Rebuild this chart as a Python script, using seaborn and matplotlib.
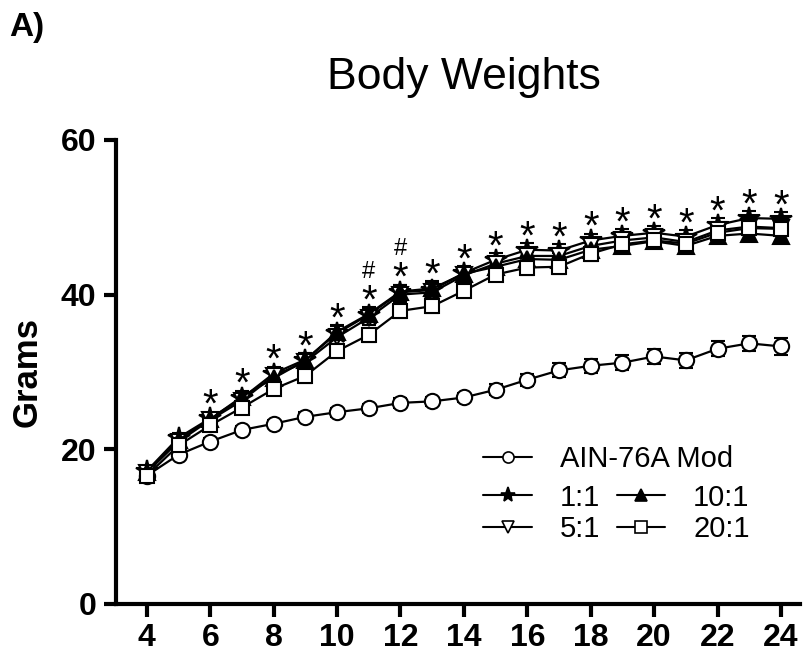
import numpy as np
import pandas as pd
import matplotlib
matplotlib.use('Agg')
import matplotlib.pyplot as plt
import seaborn as sns
from matplotlib.lines import Line2D

# Body weight data (grams), mean and SEM per week of age
weeks = list(range(4, 25))

control = [16.6, 19.3, 21.0, 22.5, 23.3, 24.2, 24.8, 25.3, 26.0, 26.2, 26.7,
           27.7, 29.0, 30.2, 30.8, 31.2, 32.0, 31.5, 33.0, 33.7, 33.3]
control_sem = [0.4, 0.5, 0.5, 0.5, 0.5, 0.6, 0.6, 0.6, 0.6, 0.6, 0.6,
               0.7, 0.8, 0.9, 0.9, 1.0, 1.0, 1.0, 1.0, 1.0, 1.1]

ratio_1_1 = [17.2, 21.5, 24.0, 26.6, 29.8, 31.6, 35.0, 37.4, 40.3, 40.6, 42.8,
             44.5, 45.8, 45.7, 47.0, 47.6, 48.0, 47.5, 49.0, 49.9, 49.8]
ratio_5_1 = [17.0, 21.0, 23.8, 26.3, 29.5, 31.3, 34.5, 37.0, 40.0, 40.3, 42.5,
             44.0, 45.0, 45.0, 46.3, 47.0, 47.4, 46.8, 48.3, 48.8, 48.6]
ratio_10_1 = [17.1, 21.2, 23.9, 26.8, 29.2, 31.5, 35.2, 37.5, 40.4, 40.8, 42.7,
              43.6, 44.6, 44.5, 45.8, 46.3, 46.9, 46.3, 47.6, 47.9, 47.6]
ratio_20_1 = [16.6, 20.5, 23.1, 25.4, 27.8, 29.5, 32.7, 34.8, 37.9, 38.5, 40.5,
              42.6, 43.5, 43.6, 45.3, 46.5, 47.0, 46.6, 48.0, 48.6, 48.5]
treated_sem = [0.5, 0.6, 0.7, 0.8, 0.8, 0.9, 0.9, 0.9, 0.9, 0.9, 0.9,
               0.9, 0.9, 0.9, 0.9, 0.9, 0.9, 0.9, 0.9, 0.9, 0.9]

star_weeks = list(range(6, 25))
hash_weeks = [11, 12]

sns.set_style('ticks')
plt.rcParams['font.family'] = ['Liberation Sans', 'DejaVu Sans']
plt.rcParams.update({'text.color': 'black', 'axes.labelcolor': 'black',
                     'xtick.color': 'black', 'ytick.color': 'black',
                     'axes.edgecolor': 'black'})

fig = plt.figure(figsize=(8.04, 6.57), dpi=100)
ax = fig.add_axes([0.144, 0.0807, 0.851, 0.7063])

groups = [
    ('AIN-76A Mod', control, control_sem, 'o', 'white', 11),
    ('1:1', ratio_1_1, treated_sem, '*', 'black', 16),
    ('5:1', ratio_5_1, treated_sem, 'v', 'white', 11),
    ('10:1', ratio_10_1, treated_sem, '^', 'black', 11),
    ('20:1', ratio_20_1, treated_sem, 's', 'white', 10),
]

for name, vals, sem, mk, face, ms in groups:
    ax.errorbar(weeks, vals, yerr=sem, fmt='none', ecolor='black',
                elinewidth=1.5, capsize=5, capthick=1.5, zorder=2)
    sns.lineplot(x=weeks, y=vals, ax=ax, color='black', linewidth=1.6,
                 marker=mk, markersize=ms, markerfacecolor=face,
                 markeredgecolor='black', markeredgewidth=1.5, zorder=3)

# significance marks above the treated groups
treated = np.array([ratio_1_1, ratio_5_1, ratio_10_1, ratio_20_1])
top = dict(zip(weeks, treated.max(axis=0)))
for w in star_weeks:
    ax.annotate('*', xy=(w, top[w]), xytext=(0, 1), textcoords='offset points',
                ha='center', va='baseline', fontsize=29)
for w in hash_weeks:
    ax.annotate('#', xy=(w, top[w]), xytext=(0, 26), textcoords='offset points',
                ha='center', va='baseline', fontsize=17)

ax.set_xlim(3.02, 24.6)
ax.set_ylim(0, 60)
ax.set_xticks(range(4, 25, 2))
ax.set_yticks([0, 20, 40, 60])
sns.despine(ax=ax)
for s in ['left', 'bottom']:
    ax.spines[s].set_linewidth(3)
ax.tick_params(axis='both', width=3, length=9, pad=5, labelsize=23)
for lab in ax.get_xticklabels() + ax.get_yticklabels():
    lab.set_fontweight('bold')

ax.set_xlabel('')
ax.set_ylabel('Grams', fontsize=25, fontweight='bold')
ax.yaxis.set_label_coords(-0.105, 0.5)
ax.set_title('Body Weights', fontsize=32, pad=37, x=0.509)
fig.text(0.012, 0.982, 'A)', fontsize=24, fontweight='bold', va='top', ha='left')

def handle(mk, face, ms=8):
    return Line2D([], [], color='black', linewidth=1.5, marker=mk, markersize=ms,
                  markerfacecolor=face, markeredgecolor='black', markeredgewidth=1.2)

leg_kw = dict(frameon=False, fontsize=21, handlelength=1.67, handletextpad=0.95,
              borderpad=0, borderaxespad=0, loc='upper left')
fig.legend([handle('o', 'white', 8)], ['AIN-76A Mod'],
           bbox_to_anchor=(0.601, 0.322), **leg_kw)
fig.legend([handle('*', 'black', 11), handle('v', 'white'),
            handle('^', 'black'), handle('s', 'white')],
           ['1:1', '5:1', '10:1', '20:1'], ncol=2, columnspacing=0.57,
           labelspacing=0.12, bbox_to_anchor=(0.601, 0.264), **leg_kw)

fig.savefig('out.png', dpi=100)
